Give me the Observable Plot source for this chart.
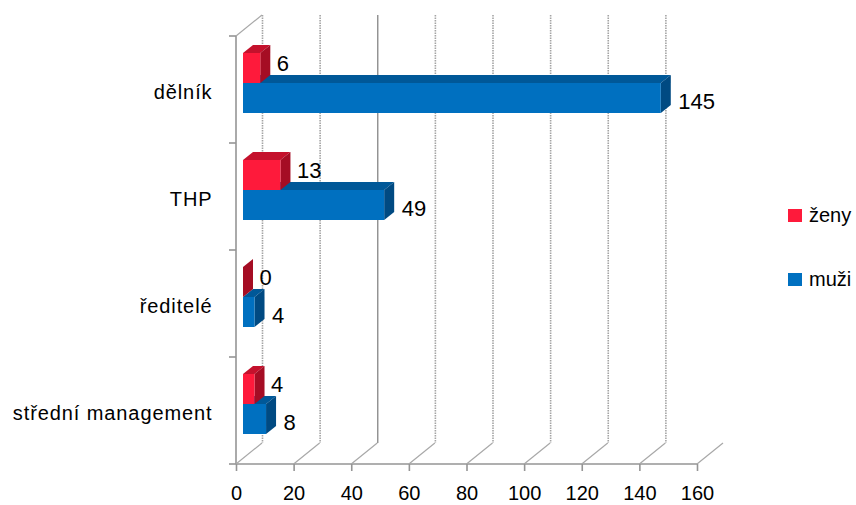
<!DOCTYPE html>
<html><head><meta charset="utf-8">
<script src="https://cdn.jsdelivr.net/npm/d3@7"></script>
<script src="https://cdn.jsdelivr.net/npm/@observablehq/plot@0.6"></script>
<style>
body{margin:0;background:#fff;font-family:"Liberation Sans",Arial,sans-serif;}
#wrap{position:relative;width:856px;height:505px;overflow:hidden;}
.legend-item{position:absolute;left:788px;display:flex;align-items:center;white-space:nowrap;font-size:20px;line-height:22px;color:#000;}
.sw{width:14px;height:13px;margin-right:7px;}
g[aria-label="y-axis tick label"] text{letter-spacing:0.9px;}
</style></head><body><div id="wrap"></div>
<script>
const categories = ["dělník", "THP", "ředitelé", "střední management"];
const seriesNames = ["ženy", "muži"];
const zeny = [6, 13, 0, 4];
const muzi = [145, 49, 4, 8];
const xTicks = [0, 20, 40, 60, 80, 100, 120, 140, 160];

const colors = {
  "ženy": {front: "#fe1a3b", top: "#c4112c", side: "#a50d24"},
  "muži": {front: "#0070c0", top: "#005898", side: "#004a82"}
};

const rowsZ = categories.map((c, i) => ({cat: c, series: "ženy", value: zeny[i]}));
const rowsM = categories.map((c, i) => ({cat: c, series: "muži", value: muzi[i]}));

// 3D styling constants (pixels)
const BAR_DX = 7, DX = 10, DY = 8, FACE_H = 30;
const WALL_DX = 26, WALL_DY = 21;
const INSET = {"ženy": 17, "muži": 47};

function frameDecor(index, scales, values, dims) {
  const x = scales.x, y = scales.y;
  const top = dims.marginTop, bottom = dims.height - dims.marginBottom;
  const g = d3.create("svg:g").attr("fill", "none").attr("stroke", "#959595");
  const x0 = x(0);
  g.append("line").attr("x1", x0).attr("x2", x0).attr("y1", top).attr("y2", bottom).attr("stroke-width", 1.6);
  g.append("line").attr("x1", x0).attr("x2", x(160)).attr("y1", bottom).attr("y2", bottom).attr("stroke-width", 1.6);
  const bw = y.bandwidth();
  const bounds = categories.map(c => y(c)).concat([y(categories[categories.length - 1]) + bw]);
  for (const b of bounds) {
    g.append("line").attr("x1", x0 - 7).attr("x2", x0).attr("y1", b).attr("y2", b).attr("stroke-width", 1.6);
  }
  for (const t of xTicks) {
    g.append("line").attr("x1", x(t)).attr("x2", x(t) + WALL_DX).attr("y1", bottom).attr("y2", bottom - WALL_DY)
      .attr("stroke", "#a8a8a8").attr("stroke-width", 1.2);
  }
  g.append("line").attr("x1", x0).attr("x2", x0 + WALL_DX).attr("y1", top).attr("y2", top - WALL_DY)
    .attr("stroke", "#a8a8a8").attr("stroke-width", 1.2);
  return g.node();
}

function boxFaces(rows, series) {
  const col = colors[series], inset = INSET[series];
  return (index, scales) => {
    const g = d3.create("svg:g");
    for (const r of rows) {
      const x0 = scales.x(0) + BAR_DX, x1 = scales.x(r.value) + BAR_DX;
      const yT = scales.y(r.cat) + inset, yB = yT + FACE_H;
      g.append("polygon").attr("points", [[x0, yT], [x0 + DX, yT - DY], [x1 + DX, yT - DY], [x1, yT]].join(" ")).attr("fill", col.top);
      g.append("polygon").attr("points", [[x1, yT], [x1 + DX, yT - DY], [x1 + DX, yB - DY], [x1, yB]].join(" ")).attr("fill", col.side);
    }
    return g.node();
  };
}

const BAND = 107;
const chart = Plot.plot({
  width: 856,
  height: 505,
  marginLeft: 236,
  marginRight: 159,
  marginTop: 36,
  marginBottom: 41,
  style: {fontFamily: "'Liberation Sans', Arial, sans-serif", fontSize: "20px", color: "#000", background: "transparent", overflow: "visible"},
  x: {domain: [0, 160], label: null},
  y: {domain: categories, padding: 0, label: null},
  marks: [
    Plot.ruleX(xTicks.filter(t => t < 160 && t !== 40), {x: d => d, dx: WALL_DX, insetTop: -WALL_DY, insetBottom: WALL_DY, stroke: "#a4a4a4", strokeWidth: 1.6, strokeDasharray: "1.5 1"}),
    Plot.ruleX([40], {x: d => d, dx: WALL_DX, insetTop: -WALL_DY, insetBottom: WALL_DY, stroke: "#8e8e8e", strokeWidth: 1.4}),
    frameDecor,
    boxFaces(rowsM, "muži"),
    Plot.barX(rowsM, {x: "value", y: "cat", dx: BAR_DX, insetTop: INSET["muži"], insetBottom: BAND - INSET["muži"] - FACE_H, fill: colors["muži"].front}),
    boxFaces(rowsZ, "ženy"),
    Plot.barX(rowsZ, {x: "value", y: "cat", dx: BAR_DX, insetTop: INSET["ženy"], insetBottom: BAND - INSET["ženy"] - FACE_H, fill: colors["ženy"].front}),
    Plot.text(rowsZ, {x: "value", y: "cat", text: d => String(d.value), dx: BAR_DX + DX + 6, dy: -26, textAnchor: "start", fill: "#000", fontSize: 22}),
    Plot.text(rowsM, {x: "value", y: "cat", text: d => String(d.value), dx: BAR_DX + DX + 7, dy: 11.5, textAnchor: "start", fill: "#000", fontSize: 22}),
    Plot.axisX({ticks: xTicks, tickSize: 7, tickPadding: 14, stroke: "#959595", strokeWidth: 1.6, fontSize: 20, label: null}),
    Plot.axisY({tickSize: 0, tickPadding: 24, dy: 3, fontSize: 20, label: null})
  ]
});
const wrap = document.getElementById("wrap");
wrap.appendChild(chart);

seriesNames.forEach((s, i) => {
  const item = document.createElement("div");
  item.className = "legend-item";
  item.style.top = (i === 0 ? 204 : 268) + "px";
  const sw = document.createElement("div");
  sw.className = "sw";
  sw.style.background = colors[s].front;
  const tx = document.createElement("span");
  tx.textContent = s;
  item.appendChild(sw);
  item.appendChild(tx);
  wrap.appendChild(item);
});
</script></body></html>
